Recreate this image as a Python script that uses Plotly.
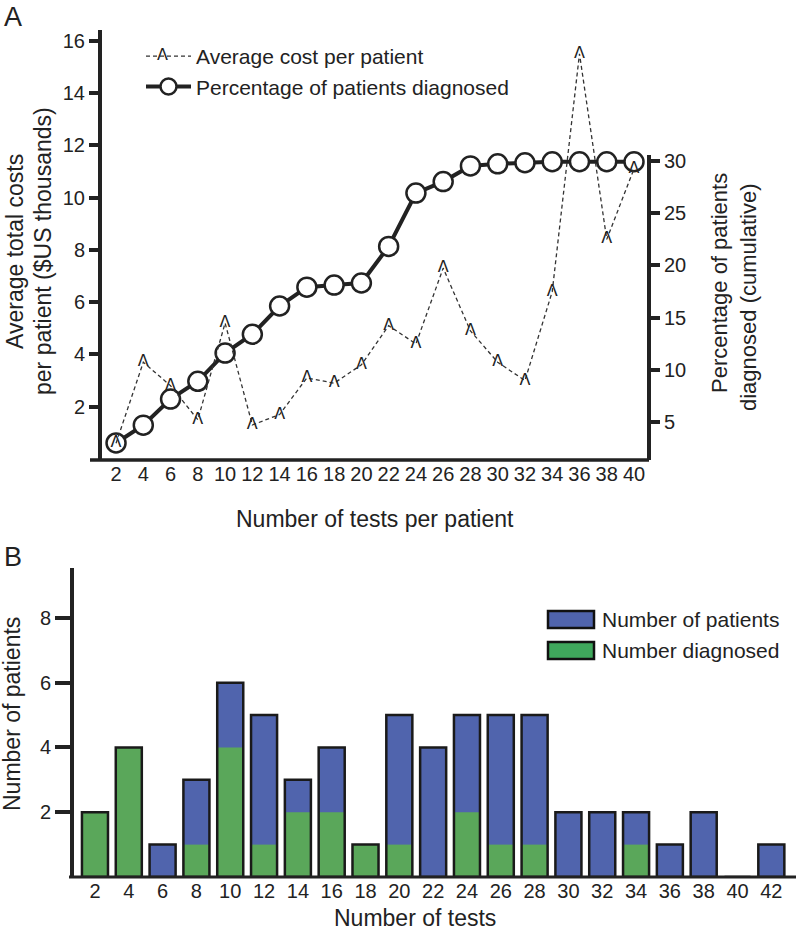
import plotly.graph_objects as go

# ---------------- data ----------------
tests_a = [2, 4, 6, 8, 10, 12, 14, 16, 18, 20, 22, 24, 26, 28, 30, 32, 34, 36, 38, 40]
avg_cost = [0.6, 3.7, 2.8, 1.5, 5.2, 1.3, 1.7, 3.1, 2.9, 3.6, 5.1, 4.4, 7.3, 4.9, 3.7, 3.0, 6.4, 15.5, 8.4, 11.1]
pct_diag = [3.0, 4.7, 7.2, 8.9, 11.6, 13.4, 16.1, 17.9, 18.1, 18.3, 21.8, 26.9, 28.0, 29.5, 29.7, 29.8, 29.9, 29.9, 29.9, 29.9]

tests_b = [2, 4, 6, 8, 10, 12, 14, 16, 18, 20, 22, 24, 26, 28, 30, 32, 34, 36, 38, 40, 42]
n_patients = [2, 4, 1, 3, 6, 5, 3, 4, 1, 5, 4, 5, 5, 5, 2, 2, 2, 1, 2, 0, 1]
n_diagnosed = [2, 4, 0, 1, 4, 1, 2, 2, 1, 1, 0, 2, 1, 1, 0, 0, 1, 0, 0, 0, 0]

cost_ticks = [2, 4, 6, 8, 10, 12, 14, 16]
pct_ticks = [5, 10, 15, 20, 25, 30]
count_ticks = [2, 4, 6, 8]

# ---------------- style ----------------
W, H = 797, 937
FONT = "Liberation Sans, Arial, sans-serif"
CARET_FONT = "DejaVu Sans, sans-serif"
CARET = "\u039b"
INK = "#222222"
BLUE = "#5064ad"
GREEN = "#5aa75a"
GREEN_LEG = "#3fa85c"


def px(x):
    return x / W


def py(y):
    return 1 - y / H


fig = go.Figure()

# Panel A: percentage (primary y, right side)
fig.add_trace(go.Scatter(
    x=tests_a, y=pct_diag, mode="lines+markers",
    name="Percentage of patients diagnosed", legendrank=2, legendgroup="g2",
    line=dict(color=INK, width=4),
    marker=dict(symbol="circle", size=19, color="white", line=dict(color=INK, width=2.5)),
    xaxis="x", yaxis="y",
))
# Panel A: cost (overlaying y2, left side)
fig.add_trace(go.Scatter(
    x=tests_a, y=avg_cost, mode="lines",
    name="Average cost per patient", legendrank=1, legendgroup="g1",
    line=dict(color="#333333", width=1.3, dash="4px,3px"),
    xaxis="x", yaxis="y2",
))
fig.add_trace(go.Scatter(
    x=tests_a, y=avg_cost, mode="text", text=[CARET] * len(tests_a),
    textposition="middle center",
    textfont=dict(family=CARET_FONT, size=16, color=INK),
    showlegend=False, hoverinfo="skip",
    xaxis="x", yaxis="y2",
))

# Panel B: bars
fig.add_trace(go.Bar(
    x=tests_b, y=n_patients, width=1.54, name="Number of patients",
    marker=dict(color=BLUE, line=dict(width=0)), showlegend=False,
    xaxis="x2", yaxis="y3",
))
fig.add_trace(go.Bar(
    x=tests_b, y=n_diagnosed, width=1.54, name="Number diagnosed",
    marker=dict(color=GREEN, line=dict(width=0)), showlegend=False,
    xaxis="x2", yaxis="y3",
))
fig.add_trace(go.Bar(
    x=tests_b, y=n_patients, width=1.54, name="outline",
    marker=dict(color="rgba(0,0,0,0)", line=dict(color="#1a1a1a", width=2.5)),
    showlegend=False, hoverinfo="skip",
    xaxis="x2", yaxis="y3",
))

tickfont = dict(family=FONT, size=20, color=INK)

fig.update_layout(
    width=W, height=H,
    margin=dict(l=0, r=0, t=0, b=0),
    paper_bgcolor="white", plot_bgcolor="rgba(0,0,0,0)",
    font=dict(family=FONT, color=INK),
    barmode="overlay",
    xaxis=dict(domain=[px(102), px(649)], anchor="y", range=[0.97, 41.1],
               tickmode="array", tickvals=tests_a, ticks="", showline=False,
               showgrid=False, zeroline=False, tickfont=tickfont),
    yaxis=dict(domain=[py(460), py(30)], anchor="x", side="right",
               range=[1.37, 42.5], tickmode="array", tickvals=pct_ticks,
               ticks="outside", ticklen=10, tickwidth=4, tickcolor=INK,
               showline=False, showgrid=False, zeroline=False, tickfont=tickfont),
    yaxis2=dict(overlaying="y", anchor="x", side="left", range=[-0.04, 16.41],
                tickmode="array", tickvals=cost_ticks, ticks="outside",
                ticklen=9, tickwidth=4, tickcolor=INK, showline=True,
                linewidth=4, linecolor=INK, showgrid=False, zeroline=False,
                tickfont=tickfont),
    xaxis2=dict(domain=[px(74), px(795)], anchor="y3", range=[0.76, 43.4],
                tickmode="array", tickvals=tests_b, ticks="", showline=False,
                showgrid=False, zeroline=False, tickfont=tickfont),
    yaxis3=dict(domain=[py(877), py(568)], anchor="x2", range=[0, 9.54],
                tickmode="array", tickvals=count_ticks, ticks="outside",
                ticklen=15, tickwidth=4, tickcolor=INK, showline=True,
                linewidth=4, linecolor=INK, showgrid=False, zeroline=False,
                tickfont=tickfont),
    legend=dict(x=px(141), y=py(36), xanchor="left", yanchor="top",
                font=dict(family=FONT, size=21, color=INK),
                bgcolor="rgba(0,0,0,0)", itemwidth=45, traceorder="grouped",
                tracegroupgap=0),
)

shapes = [
    # panel A x axis line
    dict(type="line", xref="paper", yref="paper", x0=px(90), x1=px(649),
         y0=py(460), y1=py(460), line=dict(color=INK, width=3.5)),
    # panel A right axis line
    dict(type="line", xref="x domain", yref="y", x0=1, x1=1, y0=1.37, y1=30.55,
         line=dict(color=INK, width=4)),
    # panel B x axis line
    dict(type="line", xref="paper", yref="paper", x0=px(69), x1=px(796),
         y0=py(877), y1=py(877), line=dict(color=INK, width=3)),
    # panel B legend swatches
    dict(type="rect", xref="paper", yref="paper", x0=px(548), x1=px(594),
         y0=py(628), y1=py(611), fillcolor=BLUE, line=dict(color="#111", width=2.5)),
    dict(type="rect", xref="paper", yref="paper", x0=px(548), x1=px(594),
         y0=py(659), y1=py(642), fillcolor=GREEN_LEG, line=dict(color="#111", width=2.5)),
]


def ann(text, x, y, size, angle=0, xanchor="center", yanchor="middle", family=FONT):
    return dict(text=text, x=px(x), y=py(y), xref="paper", yref="paper",
                xanchor=xanchor, yanchor=yanchor, showarrow=False,
                textangle=angle, font=dict(family=family, size=size, color=INK))


annotations = [
    ann("A", 2, 0, 27, xanchor="left", yanchor="top"),
    ann("B", 2, 540, 27, xanchor="left", yanchor="top"),
    ann("Number of tests per patient", 375, 519, 23),
    ann("Average total costs", 15, 252, 23, -90),
    ann("per patient ($US thousands)", 43, 251, 23, -90),
    ann("Percentage of patients", 719, 283, 22, -90),
    ann("diagnosed (cumulative)", 748, 298, 22, -90),
    ann("Number of patients", 12, 714, 23, -90),
    ann("Number of tests", 415, 918, 23),
    ann("Number of patients", 600, 619, 21, xanchor="left"),
    ann("Number diagnosed", 600, 650, 21, xanchor="left"),
    # caret glyph on the cost legend entry
    ann(CARET, 162, 54, 16, family=CARET_FONT),
]

fig.update_layout(shapes=shapes, annotations=annotations)

fig.write_html("out.html", config={"displayModeBar": False},
               post_script="document.body.style.margin='0';")
